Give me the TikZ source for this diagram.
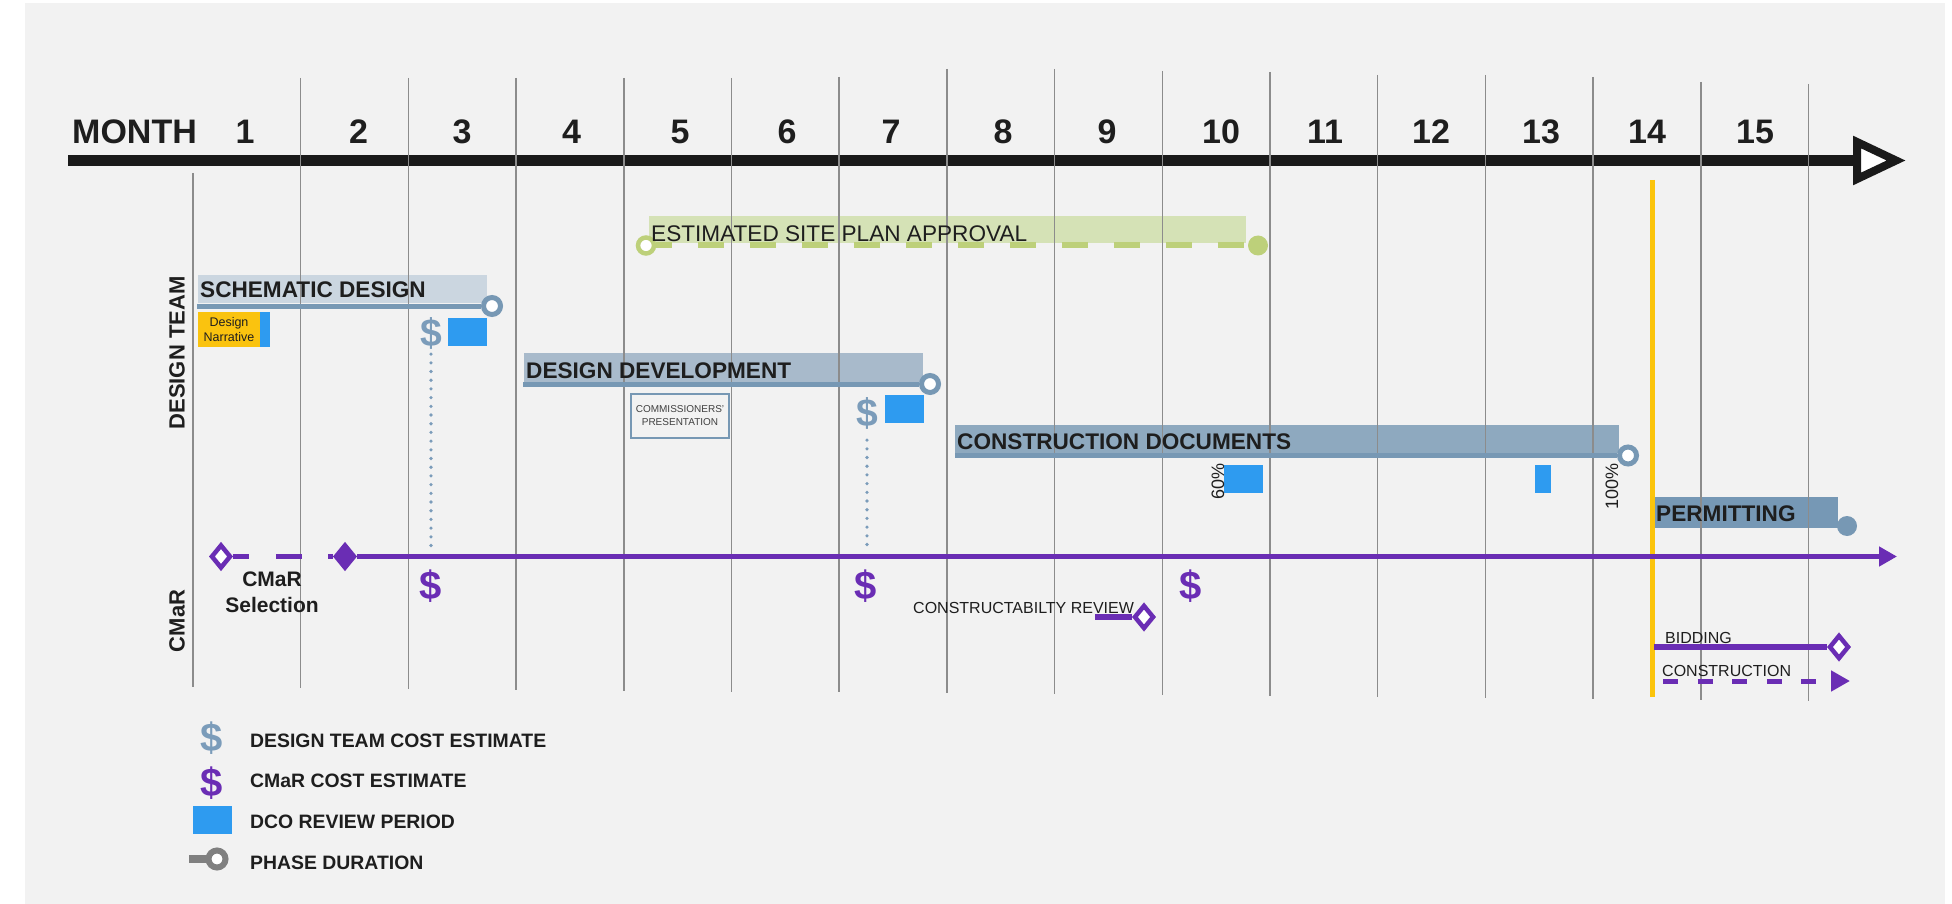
\documentclass[tikz,border=0pt]{standalone}
\usepackage{fontspec}
\setmainfont{Liberation Sans}
\usetikzlibrary{positioning, shapes.geometric, arrows.meta}

\definecolor{bgc}{HTML}{F2F2F2}
\definecolor{axisc}{HTML}{1A1A1A}
\definecolor{gridc}{HTML}{8C8C8C}
\definecolor{textc}{HTML}{1E1E1E}
\definecolor{sdc}{HTML}{CBD6E0}
\definecolor{ddc}{HTML}{A8BACB}
\definecolor{cdc}{HTML}{8EA9BF}
\definecolor{pmc}{HTML}{7698B5}
\definecolor{phasec}{HTML}{7798B4}
\definecolor{dtc}{HTML}{7B9CBA}
\definecolor{dcoc}{HTML}{2E9BF0}
\definecolor{narc}{HTML}{FAC30F}
\definecolor{yelc}{HTML}{FBC40C}
\definecolor{espc}{HTML}{D5E2B6}
\definecolor{esplc}{HTML}{BDD07A}
\definecolor{cmarc}{HTML}{6A2DB4}
\definecolor{legc}{HTML}{808080}

\newcommand{\fsz}[2]{\fontsize{#1}{#2}\selectfont}

\begin{document}
\begin{tikzpicture}[x=1pt, y=-1pt,
        grid/.style={draw=gridc, line width=1.5pt},
        month/.style={anchor=base, inner sep=0pt, text=textc, font=\bfseries\fsz{34}{37}},
        bartext/.style={anchor=base west, inner sep=0pt, text=textc, font=\bfseries\fsz{22.6}{26}},
        smalltext/.style={anchor=base west, inner sep=0pt, text=textc, font=\fsz{16}{19}},
        legtext/.style={anchor=base west, inner sep=0pt, text=textc, text height=14pt, text depth=0pt, font=\bfseries\fsz{19.4}{22}},
        phase/.style={draw=phasec, line width=5pt},
        ring/.style={circle, draw=phasec, fill=white, line width=5pt, minimum size=17pt, inner sep=0pt},
        dot/.style={circle, fill=phasec, minimum size=20pt, inner sep=0pt},
        cost/.style={inner sep=0pt, text=dtc, font=\bfseries\fsz{39}{42}},
        cmarcost/.style={inner sep=0pt, text=cmarc, font=\bfseries\fsz{40}{44}},
        dots/.style={draw=dtc, line width=3.6pt, line cap=round, dash pattern=on 0pt off 8.7pt},
        cmar/.style={draw=cmarc, line width=5pt},
        openmile/.style={diamond, draw=cmarc, fill=white, line width=4.5pt, minimum width=20pt, minimum height=24pt, inner sep=0pt},
        fullmile/.style={openmile, fill=cmarc},
        vlabel/.style={rotate=90, inner sep=0pt, text=textc, font=\bfseries\fsz{22}{26}}]
    \useasboundingbox (0,0) rectangle (1952,904);
    \fill[white] (0,0) rectangle (1952,904);
    \fill[bgc] (25,3) rectangle (1945,904);

    % time axis
    \draw[axisc, line width=11pt] (68,160.5) -- (1855,160.5);
    \draw[axisc, line width=8pt, fill=white] (1857,142) -- (1896,160.5) -- (1857,179) -- cycle;
    \node[month, anchor=base west] (mlab) at (72,144) {MONTH};
    \foreach \m/\xm in {1/245,2/358.5,3/462,4/571.5,5/680,6/787,7/891,8/1003,9/1107,10/1221,11/1325,12/1431,13/1541,14/1647,15/1755}
        \node[month] (m\m) at (\xm,144) {\m};

    % bars
    \fill[espc] (649,216) rectangle (1246,243);
    \fill[sdc] (198,275) rectangle (487,303);
    \fill[ddc] (524,353) rectangle (923,382);
    \fill[cdc] (955,425) rectangle (1619,453);
    \fill[pmc] (1654,497) rectangle (1838,528);

    % month grid
    \draw[grid] (193,173) -- (193,687);
    \foreach \i/\yt in {1/78,2/78,3/78,4/78,5/78,6/77,7/69,8/69,9/71,10/72,11/75,12/75,13/77,14/82,15/84}
        \draw[grid] ({193+107.7*\i},\yt) -- ({193+107.7*\i},{687+0.9*\i});

    \draw[yelc, line width=5pt] (1652,180) -- (1652,697);

    % site plan approval
    \node[circle, draw=esplc, fill=white, line width=4.5pt, minimum size=16pt, inner sep=0pt] (espS) at (646,245.5) {};
    \node[circle, fill=esplc, minimum size=20pt, inner sep=0pt] (espE) at (1258,245.5) {};
    \draw[esplc, line width=6pt, dash pattern=on 25.5pt off 26.5pt, dash phase=10pt] (espS) -- (espE);
    \node[bartext, font=\fsz{22.6}{26}] (espT) at (651,241) {ESTIMATED SITE PLAN APPROVAL};

    % design team
    \node[vlabel] (dtL) at (177,353) {DESIGN TEAM};

    \node[ring] (sdEnd) at (492,306) {};
    \coordinate (sdStart) at (197,306);
    \draw[phase] (sdStart) -- (sdEnd);
    \node[bartext] (sdT) at (200,298) {SCHEMATIC DESIGN};
    \fill[narc] (198,312) rectangle (260,347);
    \fill[dcoc] (260,312) rectangle (270,347);
    \node[align=center, inner sep=0pt, text=textc, font=\fsz{12.5}{15}] (narr) at (229,329.5) {Design\\Narrative};
    \node[cost] (dtA) at (431,333) {\$};
    \fill[dcoc] (448,318) rectangle (487,346);

    \node[ring] (ddEnd) at (930,384) {};
    \coordinate (ddStart) at (523,384);
    \draw[phase] (ddStart) -- (ddEnd);
    \node[bartext] (ddT) at (526,378) {DESIGN DEVELOPMENT};
    \node[draw=phasec, line width=1.5pt, fill=bgc, minimum width=98pt, minimum height=44pt, inner sep=0pt,
          align=center, text=textc!85, font=\fsz{10}{13}] (comm) at (680,416) {COMMISSIONERS'\\PRESENTATION};
    \node[cost] (dtB) at (867,413) {\$};
    \fill[dcoc] (885,395) rectangle (924,423);

    \node[ring] (cdEnd) at (1628,455.5) {};
    \coordinate (cdStart) at (955,455.5);
    \draw[phase] (cdStart) -- (cdEnd);
    \node[bartext] (cdT) at (957,449) {CONSTRUCTION DOCUMENTS};
    \fill[dcoc] (1224,465) rectangle (1263,493);
    \fill[dcoc] (1535,465) rectangle (1551,493);
    \node[rotate=90, anchor=base west, inner sep=0pt, text=textc, font=\fsz{18}{20}] (p60) at (1224,500) {60\%};
    \node[rotate=90, anchor=base west, inner sep=0pt, text=textc, font=\fsz{18}{20}] (p100) at (1618,510) {100\%};

    \node[dot] (pmEnd) at (1847,526) {};
    \node[bartext] (pmT) at (1656,521) {PERMITTING};

    % CMaR
    \node[vlabel] (cmL) at (177,621) {CMaR};
    \coordinate (cmA) at (431,553);
    \coordinate (cmB) at (867,553);
    \draw[dots, shorten <=5pt] (dtA) -- (cmA);
    \draw[dots, shorten <=11pt] (dtB) -- (cmB);

    \node[openmile] (selA) at (221,556.5) {};
    \node[fullmile] (selB) at (345,556.5) {};
    \coordinate (cmarEnd) at (1897,556.5);
    \draw[cmar, dash pattern=on 26pt off 26.5pt, dash phase=10pt] (selA) -- (selB);
    \draw[cmar, -{Triangle[length=18pt,width=19pt]}] (selB) -- (cmarEnd);
    \node[align=center, anchor=north, inner sep=0pt, text=textc, font=\bfseries\fsz{21}{26}] (selT) at (272,571.5) {CMaR\\Selection};

    \node[cmarcost] (ceA) at (431,586) {\$};
    \node[cmarcost] (ceB) at (866,586) {\$};
    \node[cmarcost] (ceC) at (1191,586) {\$};

    \node[smalltext] (crT) at (913,613) {CONSTRUCTABILTY REVIEW};
    \node[openmile] (crM) at (1144,617) {};
    \coordinate (crS) at (1095,617);
    \draw[cmar, line width=6pt] (crS) -- (crM);

    \node[smalltext] (bidT) at (1665,643) {BIDDING};
    \node[openmile] (bidM) at (1839,647) {};
    \coordinate (bidS) at (1654,647);
    \draw[cmar, line width=6pt] (bidS) -- (bidM);

    \node[smalltext] (conT) at (1662,676) {CONSTRUCTION};
    \coordinate (conS) at (1663,681);
    \coordinate (conE) at (1850,681);
    \draw[cmar, dash pattern=on 15pt off 19.6pt, -{Triangle[length=19pt,width=20pt]}] (conS) -- (conE);

    % legend
    \node[legtext] (lgA) at (250,747) {DESIGN TEAM COST ESTIMATE};
    \node[legtext, below = 26.5pt of lgA.south west, anchor=north west] (lgB) {CMaR COST ESTIMATE};
    \node[legtext, below = 26.5pt of lgB.south west, anchor=north west] (lgC) {DCO REVIEW PERIOD};
    \node[legtext, below = 26.5pt of lgC.south west, anchor=north west] (lgD) {PHASE DURATION};

    \node[cost, font=\bfseries\fsz{40}{44}] (lgIA) at (212,738) {\$};
    \node[cmarcost] (lgIB) at (212,783) {\$};
    \node[fill=dcoc, minimum width=39pt, minimum height=28pt, inner sep=0pt] (lgIC) at (212.5,820) {};
    \node[ring, draw=legc, line width=6pt] (lgID) at (217,859) {};
    \coordinate (lgIDs) at (189,859);
    \draw[legc, line width=8pt] (lgIDs) -- (lgID);
\end{tikzpicture}
\end{document}
